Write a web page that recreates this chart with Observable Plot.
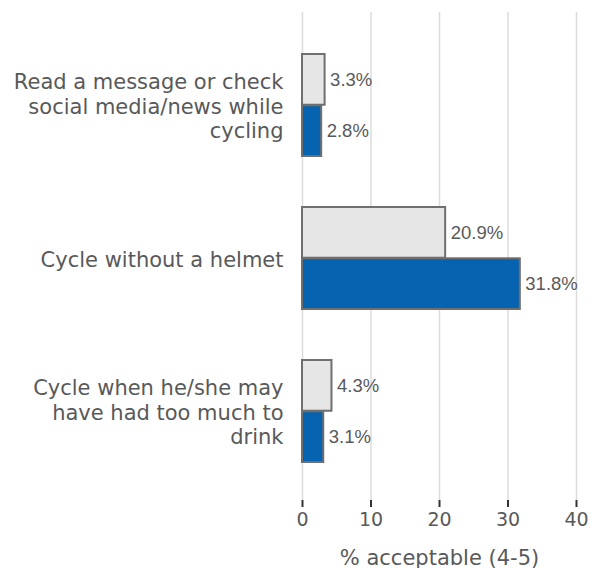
<!DOCTYPE html>
<html>
<head>
<meta charset="utf-8">
<script src="https://cdn.jsdelivr.net/npm/d3@7"></script>
<script src="https://cdn.jsdelivr.net/npm/@observablehq/plot@0.6"></script>
<style>
  html, body { margin: 0; padding: 0; background: #fff; }
  #chart svg { display: block; }
</style>
</head>
<body>
<div id="chart"></div>
<script>
const categories = [
  "Read a message or check social media/news while cycling",
  "Cycle without a helmet",
  "Cycle when he/she may have had too much to drink"
];
const categoryLabels = [
  "Read a message or check\nsocial media/news while\ncycling",
  "Cycle without a helmet",
  "Cycle when he/she may\nhave had too much to\ndrink"
];
const seriesNames = ["Series A", "Series B"];
const valuesA = [3.3, 20.9, 4.3];
const valuesB = [2.8, 31.8, 3.1];
const xTicks = [0, 10, 20, 30, 40];

const dataA = categories.map((c, i) => ({category: c, value: valuesA[i]}));
const dataB = categories.map((c, i) => ({category: c, value: valuesB[i]}));
const labelOf = new Map(categories.map((c, i) => [c, categoryLabels[i]]));

const W = 597, H = 568;
const yRange = [53, 463];
const padInner = 0.333;
const step = (yRange[1] - yRange[0]) / (categories.length - padInner);
const bw = step * (1 - padInner);
const half = bw / 2;

const textColor = "#595959";
const axisFont = "DejaVu Sans, Verdana, sans-serif";
const valueFont = "Liberation Sans, Arial, sans-serif";

const chart = Plot.plot({
  width: W,
  height: H,
  marginLeft: 302,
  marginRight: 21,
  marginTop: 12,
  marginBottom: 68,
  style: {fontFamily: axisFont, color: textColor, background: "#fff"},
  x: {domain: [0, 40]},
  y: {domain: categories, range: yRange, paddingInner: padInner, paddingOuter: 0},
  marks: [
    Plot.gridX(xTicks, {stroke: "#dcdcdc", strokeOpacity: 1, strokeWidth: 1.5}),
    Plot.barX(dataA, {
      x: "value", y: "category",
      fill: "#e6e6e6", stroke: "#6f6f6f", strokeWidth: 2,
      insetBottom: half, insetTop: 0
    }),
    Plot.barX(dataB, {
      x: "value", y: "category",
      fill: "#0563b0", stroke: "#6f6f6f", strokeWidth: 2,
      insetTop: half, insetBottom: 0
    }),
    Plot.text(dataA, {
      x: "value", y: "category", text: d => d.value.toFixed(1) + "%",
      dy: -half / 2, dx: 5, textAnchor: "start",
      fill: textColor, fontSize: 18.5, fontFamily: valueFont
    }),
    Plot.text(dataB, {
      x: "value", y: "category", text: d => d.value.toFixed(1) + "%",
      dy: half / 2, dx: 5, textAnchor: "start",
      fill: textColor, fontSize: 18.5, fontFamily: valueFont
    }),
    Plot.axisY({
      tickSize: 0, tickPadding: 19, label: null,
      tickFormat: d => labelOf.get(d),
      fontSize: 21, fill: textColor, lineHeight: 1.19
    }),
    Plot.axisX({
      ticks: xTicks, tickSize: 7, tickPadding: 5, stroke: "#333", strokeWidth: 2,
      fontSize: 19, fill: textColor, label: null
    }),
    Plot.axisX({
      ticks: [], tickSize: 0, fontSize: 21, fill: textColor,
      label: "% acceptable (4-5)", labelAnchor: "center", labelOffset: 64, labelArrow: "none"
    })
  ]
});
document.getElementById("chart").appendChild(chart);
</script>
</body>
</html>
